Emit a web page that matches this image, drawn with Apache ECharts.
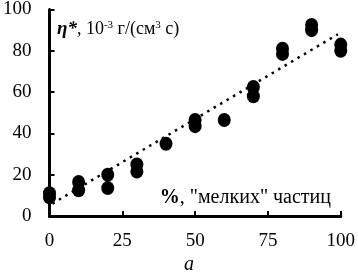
<!DOCTYPE html>
<html>
<head>
<meta charset="utf-8">
<script src="https://cdn.jsdelivr.net/npm/echarts@6/dist/echarts.min.js"></script>
<style>
html, body { margin: 0; padding: 0; background: #fff; }
#chart { width: 358px; height: 279px; }
</style>
</head>
<body>
<div id="chart"></div>
<script>
// share of "small" particles, %
var pctSmall = [0, 0, 10, 10, 20, 20, 30, 30, 40, 50, 50, 60, 70, 70, 80, 80, 90, 90, 100, 100];
// eta*, 10^-3 g/(cm3 s)
var etaValues = [9, 11, 12.5, 16.5, 13.5, 20, 21.5, 25, 35, 43.5, 46.5, 46.5, 58, 62.5, 78.5, 81, 90, 92.5, 80, 83];
// dotted trend line ends
var trendX = [1, 99];
var trendY = [6, 88];
var xTicks = [0, 25, 50, 75, 100];
var yTicks = [0, 20, 40, 60, 80, 100];

var serif = "'Times New Roman', 'Liberation Serif', serif";

var points = pctSmall.map(function (x, i) { return [x, etaValues[i]]; });
var trend = trendX.map(function (x, i) { return [x, trendY[i]]; });

var chart = echarts.init(document.getElementById('chart'));
chart.setOption({
    backgroundColor: '#fff',
    animation: false,
    textStyle: { fontFamily: serif },
    grid: { left: 47, right: 15, top: 9, bottom: 63 },
    title: [{
        left: 52,
        top: 15,
        text: '{eta|η*}{n|, 10}{sup|-3}{n| г/(см}{sup|3}{n| с)}',
        textStyle: {
            fontWeight: 'normal',
            fontFamily: serif,
            rich: {
                eta: { fontFamily: serif, fontSize: 19, fontWeight: 'bold', fontStyle: 'italic', color: '#000' },
                n: { fontFamily: serif, fontSize: 18, fontWeight: 'normal', color: '#000' },
                sup: { fontFamily: serif, fontSize: 11, fontWeight: 'normal', color: '#000', verticalAlign: 'top', padding: [0, 0, 7, 0] }
            }
        }
    }, {
        right: 22,
        top: 183,
        text: '{b|%}{n|, "мелких" частиц}',
        textStyle: {
            fontWeight: 'normal',
            fontFamily: serif,
            rich: {
                b: { fontFamily: serif, fontSize: 20, fontWeight: 'bold', color: '#000' },
                n: { fontFamily: serif, fontSize: 20, fontWeight: 'normal', color: '#000' }
            }
        }
    }, {
        left: 179,
        top: 250,
        text: 'a',
        textStyle: { fontFamily: serif, fontSize: 20, fontStyle: 'italic', fontWeight: 'normal', color: '#000' }
    }],
    xAxis: {
        type: 'value',
        min: xTicks[0],
        max: xTicks[xTicks.length - 1],
        interval: 25,
        axisLine: { lineStyle: { color: '#000', width: 3 } },
        axisTick: { inside: true, length: 5, lineStyle: { color: '#000', width: 2 } },
        axisLabel: { color: '#000', fontFamily: serif, fontSize: 19, margin: 16 },
        splitLine: { show: false }
    },
    yAxis: {
        type: 'value',
        min: yTicks[0],
        max: yTicks[yTicks.length - 1],
        interval: 20,
        axisLine: { show: true, lineStyle: { color: '#000', width: 3 } },
        axisTick: { show: true, inside: true, length: 5, lineStyle: { color: '#000', width: 2 } },
        axisLabel: { color: '#000', fontFamily: serif, fontSize: 19, margin: 18 },
        splitLine: { show: false }
    },
    series: [{
        type: 'line',
        data: trend,
        symbol: 'none',
        lineStyle: { color: '#000', width: 2.5, type: [2.5, 5] },
        z: 1
    }, {
        type: 'scatter',
        data: points,
        symbol: 'circle',
        symbolSize: [13, 14],
        itemStyle: { color: '#000', opacity: 1 },
        z: 2
    }]
});
</script>
</body>
</html>
